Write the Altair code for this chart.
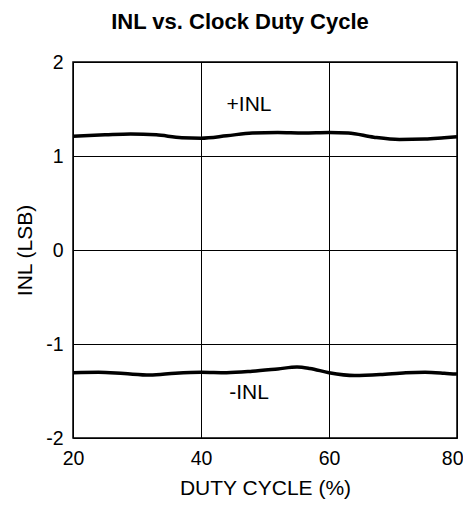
import altair as alt
import pandas as pd

duty_pos = [20, 25, 29, 33, 37, 40, 44, 48, 52, 56, 60, 63, 67, 71, 75, 78, 80]
inl_pos = [1.21, 1.225, 1.235, 1.225, 1.195, 1.19, 1.215, 1.245, 1.25, 1.245, 1.25, 1.245, 1.2, 1.175, 1.18, 1.195, 1.205]

duty_neg = [20, 24, 28, 32, 36, 40, 44, 48, 52, 55, 57, 60, 64, 68, 72, 75, 78, 80]
inl_neg = [-1.305, -1.3, -1.315, -1.33, -1.31, -1.3, -1.305, -1.29, -1.265, -1.245, -1.26, -1.305, -1.335, -1.325, -1.305, -1.3, -1.31, -1.32]

label_text = ["+INL", "-INL"]
label_x = [47.5, 47.5]
label_y = [1.54, -1.52]

df = pd.concat([
    pd.DataFrame({"duty": duty_pos, "inl": inl_pos, "series": "+INL"}),
    pd.DataFrame({"duty": duty_neg, "inl": inl_neg, "series": "-INL"}),
])
labels = pd.DataFrame({"text": label_text, "duty": label_x, "inl": label_y})

FONT = "Liberation Sans"
hyphen = "datum.value < 0 ? '-' + abs(datum.value) : '' + datum.value"

x = alt.X("duty:Q", scale=alt.Scale(domain=[20, 80], nice=False),
          axis=alt.Axis(title="DUTY CYCLE (%)", values=[20, 40, 60, 80], labelExpr=hyphen,
                        labelAlign={"expr": "datum.value == 80 ? 'right' : 'center'"},
                        labelOffset={"expr": "datum.value == 80 ? 6 : 0"}))
y = alt.Y("inl:Q", scale=alt.Scale(domain=[-2, 2], nice=False),
          axis=alt.Axis(title="INL (LSB)", values=[-2, -1, 0, 1, 2], labelExpr=hyphen,
                        titleX=-48, titleY=188, titleAlign="center", titleBaseline="middle",
                        titleAngle=-90))

lines = alt.Chart(df).mark_line(color="black", strokeWidth=3.5, interpolate="monotone").encode(
    x=x, y=y, detail="series:N"
)
text = alt.Chart(labels).mark_text(font=FONT, fontSize=21, color="black", baseline="middle").encode(
    x="duty:Q", y="inl:Q", text="text:N"
)

chart = (lines + text).properties(
    width=384, height=376,
    padding={"left": 65, "top": 54, "right": 6, "bottom": 62},
    autosize=alt.AutoSizeParams(type="none"),
    title=alt.TitleParams("INL vs. Clock Duty Cycle", font=FONT, fontSize=22, fontWeight="bold",
                          color="black", dx=-25, offset=18),
).configure_view(stroke="black", strokeWidth=1.5).configure_axis(
    grid=True, gridColor="black", gridWidth=1, gridOpacity=1,
    domain=False, ticks=False,
    labelFont=FONT, labelFontSize=19.5, labelColor="black",
    titleFont=FONT, titleFontSize=21, titleColor="black", titleFontWeight="normal",
).configure_axisX(titlePadding=10, labelPadding=11, labelFlush=False).configure_axisY(labelPadding=10)

chart.save("out.html", embed_options={"renderer": "svg", "actions": False})
